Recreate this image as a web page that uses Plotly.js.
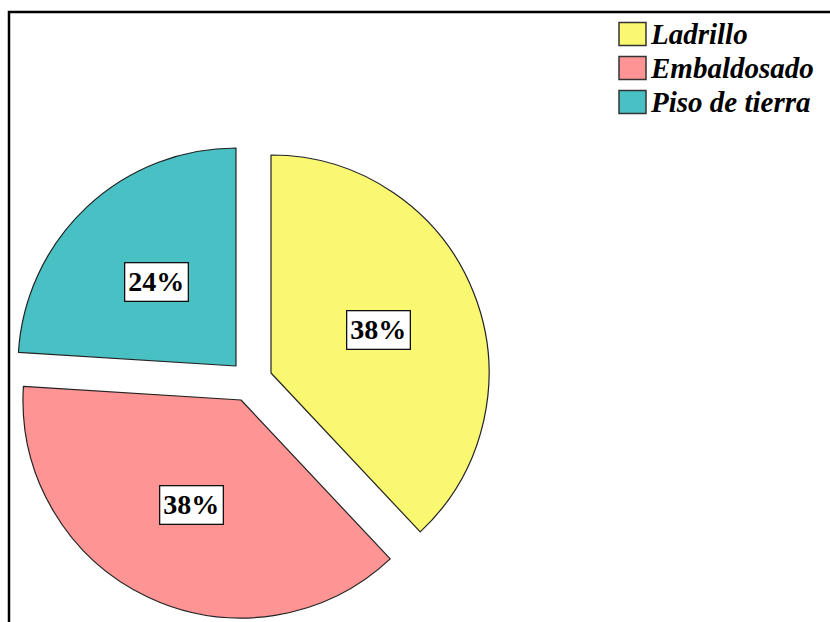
<!DOCTYPE html>
<html>
<head>
<meta charset="utf-8">
<script src="https://cdn.plot.ly/plotly-3.0.1.min.js"></script>
<style>html,body{margin:0;padding:0;background:#fff;} #chart{width:830px;height:622px;}</style>
</head>
<body>
<div id="chart"></div>
<script>
// ---- data ----
const labels = ['Ladrillo', 'Embaldosado', 'Piso de tierra'];
const values = [38, 38, 24];
const colors = ['#faf770', '#fe9494', '#48c0c4'];

// ---- layout constants (pixels) ----
const W = 830, H = 622;
const R = 218;
// exploded position of each slice's apex
const apex = [[271, 373], [241, 400], [236, 366]];
const labelRadius = 0.53;

const total = values.reduce((a, b) => a + b, 0);
const px = x => x / W;
const py = y => 1 - y / H;

const traces = labels.map((lab, i) => {
  const [ax, ay] = apex[i];
  return {
    type: 'pie',
    labels: labels,
    values: values,
    sort: false,
    direction: 'clockwise',
    rotation: 0,
    marker: {
      colors: colors.map((c, j) => j === i ? c : 'rgba(0,0,0,0)'),
      line: {color: '#222', width: labels.map((_, j) => j === i ? 1.2 : 0)}
    },
    textinfo: 'none',
    hoverinfo: 'label+percent',
    showlegend: false,
    domain: {x: [px(ax - R), px(ax + R)], y: [py(ay + R), py(ay - R)]}
  };
});

const annotations = [];
const shapes = [];
let cum = 0;
values.forEach((v, i) => {
  const mid = (cum + v / 2) / total * 2 * Math.PI;
  cum += v;
  const [ax, ay] = apex[i];
  const x = ax + labelRadius * R * Math.sin(mid);
  const y = ay - labelRadius * R * Math.cos(mid);
  annotations.push({
    xref: 'paper', yref: 'paper', x: px(x), y: py(y),
    xanchor: 'center', yanchor: 'middle', showarrow: false,
    text: Math.round(v / total * 100) + '%',
    font: {family: 'Liberation Serif, Times New Roman, serif', size: 28, color: '#000', weight: 'bold'},
    bgcolor: '#ffffff', bordercolor: '#111', borderwidth: 1.3, borderpad: 3
  });
});

// legend (custom, to match the large swatches)
const legX0 = 619, legW = 27, legH = 23, legY0 = 34, legStep = 34;
labels.forEach((lab, i) => {
  const cy = legY0 + legStep * i;
  shapes.push({
    type: 'rect', xref: 'paper', yref: 'paper',
    x0: px(legX0), x1: px(legX0 + legW), y0: py(cy + legH / 2), y1: py(cy - legH / 2),
    fillcolor: colors[i], line: {color: '#333', width: 1.5}
  });
  annotations.push({
    xref: 'paper', yref: 'paper', x: px(legX0 + legW + 2), y: py(cy),
    xanchor: 'left', yanchor: 'middle', showarrow: false,
    text: lab,
    font: {family: 'Liberation Serif, Times New Roman, serif', size: 29, color: '#000', weight: 'bold', style: 'italic'}
  });
});

// frame
shapes.push({
  type: 'rect', xref: 'paper', yref: 'paper',
  x0: px(9), x1: px(840), y0: py(640), y1: py(12),
  line: {color: '#000', width: 2.5}, fillcolor: 'rgba(0,0,0,0)', layer: 'below'
});

const layout = {
  width: W, height: H, autosize: false,
  margin: {l: 0, r: 0, t: 0, b: 0},
  paper_bgcolor: '#ffffff', plot_bgcolor: '#ffffff',
  showlegend: false,
  shapes: shapes,
  annotations: annotations
};

Plotly.newPlot('chart', traces, layout, {displayModeBar: false, staticPlot: true});
</script>
</body>
</html>
